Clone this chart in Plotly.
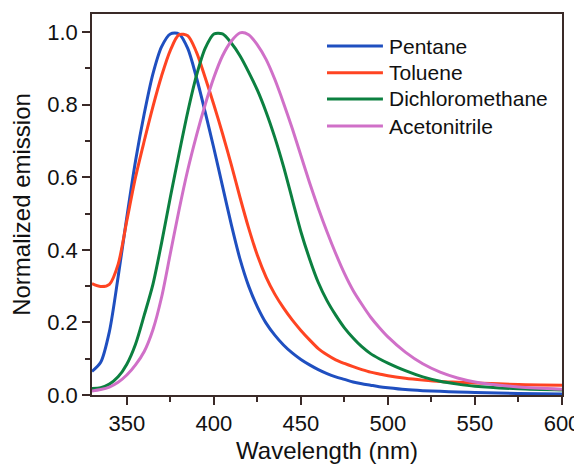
import plotly.graph_objects as go

# ---- data ----
series_names = ["Pentane", "Toluene", "Dichloromethane", "Acetonitrile"]
series_colors = ["#1f4fc0", "#ff4422", "#0c8040", "#d070c8"]

wl = [330, 335, 340, 345, 350, 355, 360, 365, 370, 375, 380, 385, 390, 395, 400, 405, 410, 415, 420,
      425, 430, 435, 440, 445, 450, 455, 460, 465, 470, 475, 480, 485, 490, 495, 500, 510, 520, 530,
      540, 550, 575, 600]

pentane_y = [0.065, 0.09, 0.175, 0.325, 0.49, 0.645, 0.775, 0.885, 0.96, 0.995, 0.995, 0.955, 0.875,
             0.78, 0.68, 0.575, 0.47, 0.375, 0.30, 0.243, 0.198, 0.165, 0.138, 0.116, 0.098, 0.083,
             0.07, 0.059, 0.05, 0.043, 0.036, 0.031, 0.027, 0.023, 0.02, 0.015, 0.012, 0.01, 0.008,
             0.007, 0.004, 0.003]

toluene_y = [0.307, 0.299, 0.305, 0.36, 0.48, 0.60, 0.70, 0.795, 0.88, 0.95, 0.993, 0.99, 0.945,
             0.875, 0.80, 0.72, 0.635, 0.545, 0.46, 0.385, 0.325, 0.278, 0.24, 0.207, 0.178, 0.152,
             0.128, 0.111, 0.097, 0.087, 0.078, 0.07, 0.063, 0.058, 0.053, 0.046, 0.041, 0.037, 0.035,
             0.033, 0.029, 0.027]

dcm_y = [0.018, 0.02, 0.03, 0.05, 0.085, 0.14, 0.22, 0.305, 0.42, 0.545, 0.665, 0.78, 0.88, 0.955,
         0.995, 0.995, 0.97, 0.935, 0.89, 0.84, 0.78, 0.71, 0.63, 0.54, 0.45, 0.375, 0.31, 0.26, 0.22,
         0.185, 0.157, 0.133, 0.114, 0.1, 0.088, 0.067, 0.05, 0.038, 0.03, 0.024, 0.017, 0.014]

acn_y = [0.011, 0.015, 0.022, 0.035, 0.055, 0.083, 0.12, 0.18, 0.27, 0.39, 0.51, 0.62, 0.715, 0.80,
         0.875, 0.935, 0.975, 0.998, 0.993, 0.965, 0.925, 0.87, 0.805, 0.735, 0.66, 0.585, 0.515,
         0.45, 0.39, 0.335, 0.288, 0.25, 0.215, 0.186, 0.16, 0.118, 0.086, 0.063, 0.047, 0.036,
         0.022, 0.016]

x_ticks = [350, 400, 450, 500, 550, 600]
y_ticks = [0.0, 0.2, 0.4, 0.6, 0.8, 1.0]

all_y = [pentane_y, toluene_y, dcm_y, acn_y]

FONT = "Liberation Sans, Arial, sans-serif"

fig = go.Figure()
for name, col, ys in zip(series_names, series_colors, all_y):
    fig.add_trace(go.Scatter(x=wl, y=ys, mode="lines", name=name,
                             line=dict(color=col, width=3, shape="spline", smoothing=0.8),
                             showlegend=False))

# manual legend (long line samples like the reference)
leg_y = [0.916, 0.846, 0.777, 0.706]
for name, col, yy in zip(series_names, series_colors, leg_y):
    fig.add_shape(type="line", xref="paper", yref="paper", x0=0.50, x1=0.619, y0=yy, y1=yy,
                  line=dict(color=col, width=3))
    fig.add_annotation(xref="paper", yref="paper", x=0.628, y=yy, text=name, showarrow=False,
                       xanchor="left", yanchor="middle", font=dict(family=FONT, size=21, color="#111"))

axis_color = "#3a2a28"
# page body has an 8px default margin, so the figure is 8px smaller and margins shifted
fig.update_layout(
    width=574, height=462,
    margin=dict(l=84, r=20, t=6, b=75),
    paper_bgcolor="white", plot_bgcolor="white",
    font=dict(family=FONT, size=21, color="#111"),
    xaxis=dict(range=[330, 600], tickvals=x_ticks, ticks="outside", ticklen=8, tickwidth=1.5,
               tickcolor=axis_color, showline=True, linecolor=axis_color, linewidth=1.5, mirror=True,
               showgrid=False, zeroline=False, automargin=False,
               minor=dict(dtick=25, tick0=325, ticks="outside", ticklen=5, tickwidth=1.5, tickcolor=axis_color),
               tickfont=dict(size=22),
               title=dict(text="Wavelength (nm)", font=dict(size=24), standoff=7)),
    yaxis=dict(range=[0, 1.05], tickvals=y_ticks, tickformat=".1f", ticks="outside", ticklen=8,
               tickwidth=1.5, tickcolor=axis_color, showline=True, linecolor=axis_color, linewidth=1.5,
               mirror=True, showgrid=False, zeroline=False, automargin=False,
               minor=dict(dtick=0.1, tick0=0, ticks="outside", ticklen=5, tickwidth=1.5, tickcolor=axis_color),
               tickfont=dict(size=22),
               title=dict(text="Normalized emission", font=dict(size=24), standoff=12)),
)

fig.write_html("out.html")
